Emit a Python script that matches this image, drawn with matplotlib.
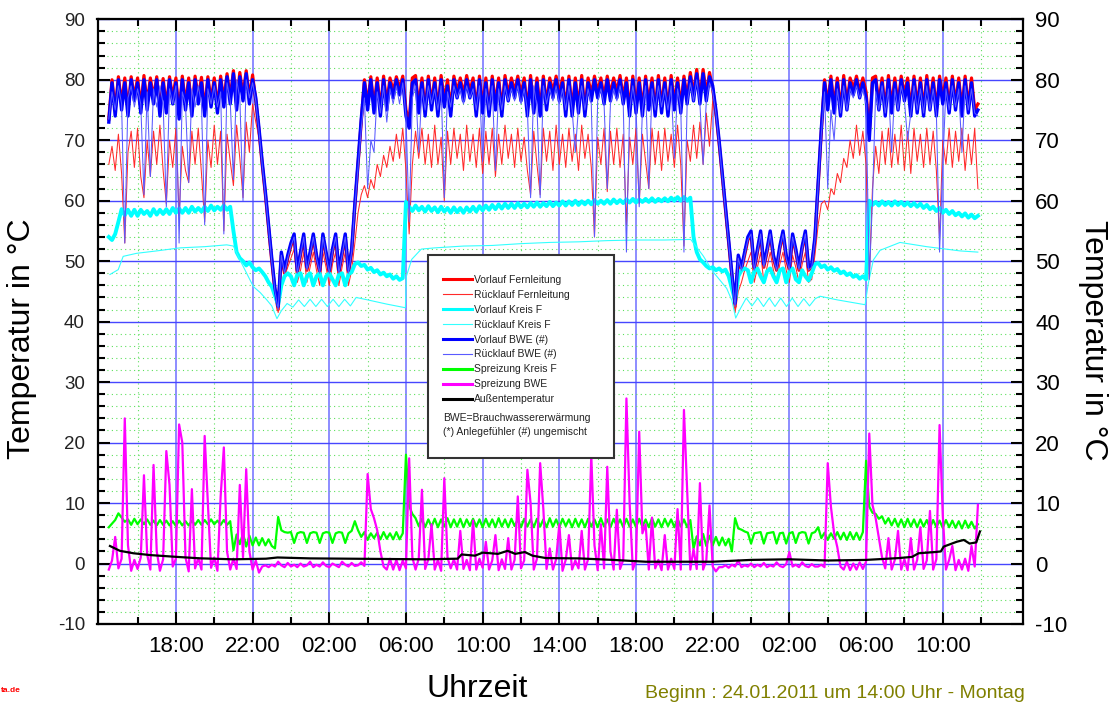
import numpy as np
import matplotlib
matplotlib.use("Agg")
import matplotlib.pyplot as plt
from matplotlib.patches import Rectangle
from matplotlib.lines import Line2D
from matplotlib.ticker import FixedLocator, MultipleLocator

plt.rcParams['font.family'] = ['Liberation Sans', 'DejaVu Sans']
plt.rcParams['axes.unicode_minus'] = False

# Messraster: 10 Minuten, erster Wert 24.01. 14:30 (Stunden ab 24.01. 00:00)
t0 = 14.5
dt = 1 / 6

# Vorlauf Fernleitung, je Zeile eine Stunde
vl_fern = [
    [73.5, 80, 75, 80.5, 76, 80.3],        # 14:30
    [75, 80.5, 77, 80.3, 75.5, 80.7],
    [76, 80.3, 77, 80.5, 75, 80.2],
    [75.5, 80.5, 77, 80.3, 74.5, 80.6],
    [76, 80.3, 75, 80.6, 77, 80.4],        # 18:30
    [75, 80.5, 76.5, 80.3, 75.5, 80.6],
    [76.5, 81, 77, 81.5, 76, 81.2],
    [77.5, 81.5, 77, 80.8, 76.5, 71.5],
    [66, 61, 55.5, 50, 45, 42],            # 22:30
    [51, 48, 50.5, 52.5, 54, 48],
    [51, 54, 48.5, 51, 54, 50.5],
    [48, 54, 51, 48, 51.5, 54],
    [48, 51, 54, 48, 51.5, 59],            # 02:30
    [66, 73, 80, 76, 80.5, 75.5],
    [80.3, 75, 80.6, 76, 80.3, 78],
    [80.5, 78.5, 80.6, 75, 73, 80.3],
    [80.7, 75.5, 80.3, 75, 80.6, 76],      # 06:30
    [80.3, 75, 80.7, 76.5, 80, 75],
    [80.6, 78, 80.3, 77.5, 80.7, 78],
    [80.3, 75, 80.6, 75.5, 80.3, 75],
    [80.6, 76, 80.3, 75, 80.7, 77.5],      # 10:30
    [80.3, 78, 80.6, 77.5, 80.3, 75],
    [80.7, 75.5, 80.3, 75, 80.6, 76],
    [80.3, 78, 80.6, 77.5, 80.3, 75],
    [80.6, 75, 80.3, 75.5, 80.7, 75],      # 14:30
    [80.3, 77.5, 80.6, 78, 80.3, 77],
    [80.6, 77.5, 80.3, 78, 80.7, 77],
    [80.3, 75, 80.6, 75.5, 80.3, 75],
    [80.6, 76, 80.3, 75, 80.7, 75.5],      # 18:30
    [80.3, 75, 80.7, 76, 80.3, 75.5],
    [80.6, 77, 81.2, 77.5, 81.7, 77],
    [81.7, 77.5, 81.2, 78.5, 74.5, 69.5],
    [64, 58.5, 53, 47.5, 42.5, 50.5],      # 22:30
    [48.5, 51, 53.5, 54.5, 48.5, 51.5],
    [54.5, 49, 51.5, 54.5, 50.5, 48.5],
    [52, 54.5, 50.5, 48.5, 54, 51.5],
    [48.5, 52, 54.5, 48.5, 49, 53.5],      # 02:30
    [62.5, 71.5, 80, 76, 80.6, 75.5],
    [80.3, 75, 80.7, 76, 80.3, 78.5],
    [80.6, 78, 80.3, 78, 71, 80.3],
    [80.6, 76, 80.3, 75, 80.7, 75.5],      # 06:30
    [80.3, 76, 80.6, 77.5, 80.3, 75],
    [80.6, 75.5, 80.3, 75, 80.7, 76],
    [80.3, 75, 80.6, 77, 80.3, 75.5],
    [80.6, 76, 80.3, 75, 80.6, 75.5],      # 10:30
    [80.3, 75, 76],
]

# Ruecklauf Fernleitung
rl_fern = [
    [66, 69, 65, 71, 64.5, 53],
    [68, 71.5, 65.5, 72, 64, 60.5],
    [70, 64, 71.5, 66, 72.5, 65],
    [59.5, 70, 65.5, 72, 57.5, 69],
    [65, 63, 71.5, 66, 72, 64.5],
    [56.5, 70, 65.5, 72.5, 66, 71.5],
    [55, 71, 66.5, 62.5, 72.5, 67],
    [60.5, 73, 68, 76, 73, 70.5],
    [65.5, 60.5, 55, 49.5, 44.5, 41.5],
    [45.5, 47.5, 49, 50.5, 52, 46.5],
    [48.5, 51.5, 46.5, 49, 51.5, 48.5],
    [46, 51.5, 49, 46, 49.5, 51.5],
    [46, 49, 51.5, 46, 48.5, 53],
    [58, 61, 62.5, 60.5, 63.5, 62],
    [66, 64, 67.5, 65.5, 69, 66.5],
    [71, 67, 72, 65, 54.5, 66],
    [71.5, 67, 72, 66, 71, 65.5],
    [72.5, 66, 70.5, 60, 71.5, 66],
    [72, 67, 71, 65, 72.5, 66.5],
    [71, 65.5, 72, 64.5, 71.5, 66],
    [72, 64, 71, 66, 72.5, 67],
    [71, 65.5, 72, 66.5, 70.5, 65],
    [61, 71.5, 66, 61, 72, 66.5],
    [71.5, 65, 72.5, 66, 71, 65.5],
    [72, 66.5, 71, 65, 72.5, 67],
    [71, 65.5, 54, 70.5, 66, 72],
    [61.5, 71.5, 66, 72, 65.5, 71],
    [56, 70.5, 66, 72, 59.5, 71],
    [66.5, 62, 72, 66, 71.5, 65],
    [72, 66.5, 71, 65.5, 72.5, 66],
    [52.5, 70, 66.5, 72.5, 67, 73],
    [66, 74.5, 69, 76.5, 73.5, 69],
    [63.5, 58, 52.5, 47, 41.5, 45],
    [46.5, 48.5, 50, 51.5, 46.5, 49],
    [51.5, 46.5, 49, 51.5, 48.5, 46.5],
    [49.5, 51.5, 48.5, 46.5, 51, 49],
    [46.5, 49.5, 51.5, 46.5, 47, 51],
    [56, 59.5, 60, 58.5, 62, 61],
    [64.5, 63, 67, 65.5, 70, 67],
    [72.5, 67.5, 71.5, 66, 47, 62],
    [69, 64.5, 71.5, 66, 72, 65.5],
    [71, 66, 72.5, 65, 71.5, 64.5],
    [72, 66.5, 71, 65.5, 72, 66],
    [71.5, 65, 53.5, 70, 66, 72],
    [65.5, 71.5, 66.5, 72, 65, 71],
    [66, 72, 62],
]

# Vorlauf Kreis F
vl_kreis = [
    [54.0, 53.5, 54.5, 56.5, 58.6, 57.6],
    [58.5, 57.5, 58.5, 57.5, 58.5, 57.8],
    [58.3, 57.5, 58.6, 57.7, 58.5, 57.8],
    [58.6, 57.8, 58.8, 58.0, 58.7, 58.0],
    [58.8, 58.0, 59.0, 58.2, 58.8, 58.2],
    [59.0, 58.3, 59.2, 58.4, 59.0, 58.5],
    [59.2, 58.5, 59.0, 55.0, 51.5, 50.5],
    [50.0, 49.3, 49.8, 49.0, 48.5, 48.8],
    [48.2, 47.5, 46.5, 45.8, 44.3, 42.8],
    [46.0, 47.5, 48.0, 47.5, 46.0, 47.8],
    [48.0, 46.0, 47.5, 48.0, 46.0, 47.5],
    [48.0, 46.0, 47.5, 48.0, 47.0, 46.0],
    [47.8, 48.0, 46.0, 47.8, 48.2, 49.5],
    [49.8, 49.2, 49.4, 48.6, 48.9, 48.2],
    [48.5, 47.8, 48.1, 47.5, 47.8, 47.1],
    [47.5, 46.9, 47.2, 59.8, 59.0, 58.3],
    [59.2, 58.4, 59.0, 58.2, 59.1, 58.3],
    [58.9, 58.1, 59.0, 58.2, 58.8, 58.0],
    [58.9, 58.1, 58.8, 58.0, 58.9, 58.2],
    [59.0, 58.2, 59.1, 58.4, 59.2, 58.5],
    [59.3, 58.6, 59.4, 58.7, 59.5, 58.8],
    [59.5, 58.8, 59.6, 58.9, 59.5, 58.9],
    [59.6, 59.0, 59.7, 59.0, 59.6, 59.1],
    [59.8, 59.1, 59.7, 59.2, 59.9, 59.2],
    [59.9, 59.3, 60.0, 59.3, 59.9, 59.4],
    [60.0, 59.4, 60.1, 59.5, 60.0, 59.5],
    [60.1, 59.5, 60.2, 59.6, 60.1, 59.6],
    [60.2, 59.7, 60.3, 59.7, 60.2, 59.8],
    [60.3, 59.8, 60.4, 59.8, 60.3, 59.9],
    [60.4, 59.9, 60.5, 60.0, 60.6, 60.0],
    [60.6, 60.0, 60.5, 54.0, 51.5, 50.3],
    [49.8, 49.2, 48.8, 49.0, 48.5, 48.8],
    [48.3, 48.6, 47.5, 45.5, 43.5, 47.5],
    [48.5, 48.8, 48.5, 46.5, 48.3, 48.8],
    [47.5, 46.5, 48.3, 48.8, 47.5, 46.5],
    [48.5, 48.8, 46.5, 48.3, 48.8, 47.0],
    [46.5, 48.5, 47.5, 46.8, 48.0, 49.5],
    [49.7, 49.0, 49.3, 48.6, 49.0, 48.4],
    [48.7, 48.0, 48.3, 47.7, 48.0, 47.4],
    [47.7, 47.1, 47.5, 47.0, 60.0, 59.3],
    [59.8, 59.2, 59.9, 59.3, 59.8, 59.2],
    [59.9, 59.3, 59.8, 59.2, 59.7, 59.1],
    [59.6, 59.0, 59.5, 58.8, 59.3, 58.6],
    [59.0, 58.3, 58.8, 58.0, 58.5, 57.8],
    [58.3, 57.6, 58.0, 57.4, 57.9, 57.2],
    [57.7, 57.1, 57.5],
]

# Ruecklauf Kreis F (einzelne Stuetzpunkte)
rl_kreis_t = [14.56, 14.99, 15.25, 15.95, 17.0, 18.2, 19.5, 20.65, 21.0, 21.34,
              21.69, 22.04, 22.4, 22.74, 23.0, 23.27, 23.5, 23.8, 24.1, 24.4,
              24.7, 25.0, 25.3, 25.6, 25.9, 26.2, 26.5, 26.8, 27.1, 27.4,
              28.0, 29.0, 29.97, 30.02, 30.3, 30.8, 31.5, 33.0, 34.5, 36.0,
              37.5, 39.0, 40.5, 42.0, 43.5, 44.85, 45.0, 45.5, 46.03, 46.73,
              47.0, 47.2, 47.45, 47.75, 48.05, 48.35, 48.65, 48.95, 49.25, 49.55,
              49.85, 50.15, 50.45, 50.75, 51.05, 51.35, 51.6, 52.5, 53.95, 54.12,
              54.38, 54.73, 55.77, 57.16, 58.9, 59.83]
rl_kreis = [47.8, 48.6, 50.8, 51.3, 51.7, 52.2, 52.4, 52.7, 52.5, 50.2,
            48.0, 45.8, 44.8, 43.6, 42.6, 40.5, 41.8, 43.0, 42.4, 43.6,
            42.5, 43.7, 42.5, 43.7, 42.5, 43.7, 42.5, 43.7, 42.6, 44.0,
            43.6, 42.9, 42.3, 47.5, 50.3, 52.0, 52.2, 52.5, 52.6, 52.9,
            53.1, 53.2, 53.4, 53.5, 53.5, 53.6, 53.0, 50.9, 48.2, 45.5,
            43.5, 40.6, 42.2, 43.9, 42.6, 43.9, 42.5, 43.9, 42.5, 43.9,
            42.5, 43.9, 42.5, 43.8, 42.6, 43.8, 44.2, 43.6, 42.8, 46.4,
            50.2, 51.8, 53.1, 52.4, 51.7, 51.5]

# Vorlauf BWE (#)
vl_bwe = [
    [73, 79.5, 74, 80, 75, 79.5],
    [74, 80, 76.5, 79.5, 74.5, 80],
    [75, 79.5, 76, 80, 74, 79.5],
    [74.5, 80, 76, 79.5, 73.5, 80],
    [75, 79.5, 74, 80, 76, 79.5],
    [74, 80, 75.5, 79.5, 74.5, 80],
    [75.5, 80.5, 76, 81, 75, 80.5],
    [76.5, 81, 76, 80, 77, 72],
    [66.5, 61.5, 56, 50.5, 45.5, 42.5],
    [51.5, 48.5, 51, 53, 54.5, 48.5],
    [51.5, 54.5, 49, 51.5, 54.5, 51],
    [48.5, 54.5, 51.5, 48.5, 52, 54.5],
    [48.5, 51.5, 54.5, 48.5, 52, 59.5],
    [66.5, 73.5, 79.5, 75, 80, 74.5],
    [79.5, 74, 80, 75, 79.5, 77],
    [80, 77.5, 80, 74, 72, 79.5],
    [80, 74.5, 79.5, 74, 80, 75],
    [79.5, 74, 80, 75.5, 79, 74],
    [80, 77, 79.5, 76.5, 80, 77],
    [79.5, 74, 80, 74.5, 79.5, 74],
    [80, 75, 79.5, 74, 80, 76.5],
    [79.5, 77, 80, 76.5, 79.5, 74],
    [80, 74.5, 79.5, 74, 80, 75],
    [79.5, 77, 80, 76.5, 79.5, 74],
    [80, 74, 79.5, 74.5, 80, 74],
    [79.5, 76.5, 80, 77, 79.5, 76],
    [80, 76.5, 79.5, 77, 80, 76],
    [79.5, 74, 80, 74.5, 79.5, 74],
    [80, 75, 79.5, 74, 80, 74.5],
    [79.5, 74, 80, 75, 79.5, 74.5],
    [80, 76, 80.5, 76.5, 81, 76],
    [81, 76.5, 80.5, 79, 75, 70],
    [64.5, 59, 53.5, 48, 43, 51],
    [49, 51.5, 54, 55, 49, 52],
    [55, 49.5, 52, 55, 51, 49],
    [52.5, 55, 51, 49, 54.5, 52],
    [49, 52.5, 55, 49, 49.5, 54],
    [63, 72, 79.5, 75, 80, 74.5],
    [79.5, 74, 80, 75, 79.5, 77.5],
    [80, 77, 79.5, 77, 70, 79.5],
    [80, 75, 79.5, 74, 80, 74.5],
    [79.5, 75, 80, 76.5, 79.5, 74],
    [80, 74.5, 79.5, 74, 80, 75],
    [79.5, 74, 80, 76, 79.5, 74.5],
    [80, 75, 79.5, 74, 80, 74.5],
    [79.5, 74, 75],
]

# Ruecklauf BWE (#)
rl_bwe = [
    [73.5, 78, 75, 79, 76, 53],
    [77, 79, 75.5, 78.5, 76, 61],
    [78, 64, 78.5, 75.5, 79, 76],
    [59, 78.5, 76, 79, 53, 78],
    [76, 63, 78.5, 75.5, 79, 76],
    [56, 78.5, 76, 79, 75.5, 78],
    [54.5, 79.5, 76.5, 63.5, 80, 77],
    [60, 80, 77, 79.5, 76.5, 71.5],
    [66, 61, 55.5, 50, 45, 42],
    [51, 48, 50.5, 52.5, 54, 48],
    [51, 54, 48.5, 51, 54, 50.5],
    [48, 54, 51, 48, 51.5, 54],
    [48, 51, 54, 48, 51.5, 59],
    [65.5, 72, 77, 62, 70, 68],
    [78, 74.5, 79, 73, 78.5, 76],
    [79, 76, 79.5, 74, 56.5, 77],
    [79, 68, 78.5, 75, 79, 76],
    [78.5, 75, 79, 60.5, 78, 75.5],
    [79, 77, 78.5, 76, 79, 77],
    [78.5, 75, 79, 66.5, 78.5, 75],
    [79, 65, 78.5, 75, 79, 76.5],
    [78.5, 76.5, 79, 76, 78.5, 75],
    [60.5, 79, 75.5, 60.5, 79, 76],
    [78.5, 76.5, 79, 76, 78.5, 75],
    [79, 75, 68, 75.5, 79, 75],
    [78.5, 76, 54, 76.5, 78.5, 76],
    [62, 76, 78.5, 76.5, 79, 76],
    [51.5, 75, 79, 75.5, 59, 75],
    [79, 62, 78.5, 75, 79, 75.5],
    [78.5, 75, 79, 67, 78.5, 75.5],
    [51.5, 76, 79.5, 76.5, 80, 76],
    [66, 76.5, 79.5, 78, 74.5, 69.5],
    [64, 58.5, 53, 47.5, 42.5, 50.5],
    [48.5, 51, 53.5, 54.5, 48.5, 51.5],
    [54.5, 49, 51.5, 54.5, 50.5, 48.5],
    [52, 54.5, 50.5, 48.5, 54, 51.5],
    [48.5, 52, 54.5, 48.5, 49, 53.5],
    [62.5, 71, 78, 62, 75, 70],
    [78.5, 74.5, 79, 75, 78.5, 77],
    [79, 77, 78.5, 76, 47, 60],
    [78, 75, 79, 74.5, 78.5, 68],
    [78.5, 75, 79, 76.5, 70, 74.5],
    [79, 75, 78.5, 74.5, 79, 75],
    [78.5, 74.5, 51.5, 66, 78.5, 75],
    [79, 75.5, 78.5, 68, 79, 75],
    [78.5, 74.5, 74],
]

# Spreizung Kreis F
spr_kreis = [
    [6.0, 6.6, 7.2, 8.3, 7.6, 6.9],
    [7.3, 6.4, 7.4, 6.5, 7.3, 6.5],
    [7.3, 6.4, 7.1, 6.3, 7.2, 6.4],
    [7.1, 6.3, 7.0, 6.2, 7.1, 6.3],
    [7.0, 6.3, 7.1, 6.4, 7.2, 6.4],
    [7.2, 6.5, 7.3, 6.5, 7.1, 6.4],
    [7.2, 6.4, 7.0, 2.2, 4.8, 3.2],
    [5.0, 2.8, 4.6, 3.0, 4.3, 3.0],
    [4.2, 3.0, 4.0, 2.9, 2.5, 7.7],
    [5.5, 5.2, 5.1, 5.2, 3.4, 5.0],
    [5.2, 5.1, 3.4, 5.0, 5.2, 5.1],
    [3.4, 5.0, 5.2, 5.1, 3.4, 5.0],
    [5.2, 5.1, 3.4, 5.0, 5.4, 7.0],
    [5.5, 4.4, 5.2, 3.9, 5.0, 4.2],
    [5.1, 4.0, 5.2, 4.1, 5.0, 4.0],
    [5.2, 4.0, 5.0, 18.0, 9.5, 8.2],
    [7.5, 6.2, 7.4, 6.0, 7.3, 6.1],
    [7.4, 6.0, 7.3, 6.1, 7.5, 6.0],
    [7.3, 6.1, 7.4, 6.0, 7.3, 6.2],
    [7.4, 6.1, 7.3, 6.0, 7.4, 6.1],
    [7.3, 6.0, 7.5, 6.1, 7.3, 6.0],
    [7.4, 6.2, 7.3, 6.0, 7.4, 6.1],
    [7.3, 6.0, 7.4, 6.1, 7.3, 6.0],
    [7.5, 6.1, 7.3, 6.0, 7.4, 6.2],
    [7.3, 6.0, 7.4, 6.1, 7.3, 6.0],
    [7.4, 6.1, 7.3, 6.0, 7.5, 6.1],
    [7.3, 6.0, 7.4, 6.2, 7.3, 6.0],
    [7.4, 6.1, 7.3, 6.0, 7.4, 6.1],
    [7.3, 6.0, 7.5, 6.1, 7.3, 6.0],
    [7.4, 6.2, 7.3, 6.0, 7.4, 6.1],
    [7.3, 6.0, 7.2, 2.5, 4.5, 3.0],
    [4.9, 2.9, 4.6, 3.0, 4.4, 3.0],
    [4.3, 3.0, 4.1, 2.0, 7.5, 5.8],
    [5.6, 5.3, 5.1, 3.3, 5.0, 5.1],
    [5.2, 3.3, 5.0, 5.1, 5.2, 3.3],
    [5.0, 5.1, 3.3, 5.0, 5.2, 3.4],
    [5.0, 5.2, 5.1, 3.3, 5.0, 5.2],
    [6.0, 4.2, 5.1, 3.9, 5.0, 4.1],
    [5.2, 4.0, 5.1, 3.9, 5.2, 4.0],
    [5.1, 3.9, 5.2, 17.0, 9.4, 8.4],
    [8.2, 7.4, 7.8, 6.6, 7.5, 6.3],
    [7.4, 6.1, 7.3, 6.0, 7.4, 6.1],
    [7.3, 6.0, 7.3, 6.1, 7.2, 5.9],
    [7.2, 6.0, 7.1, 5.9, 7.2, 6.0],
    [7.1, 5.9, 7.0, 5.8, 7.1, 5.9],
    [6.9, 5.8, 6.5],
]

# Spreizung BWE
spr_bwe = [
    [-1.0, 0.5, 4.4, -0.8, 0.8, 24.0],
    [3.0, -1.2, 0.6, -0.9, 1.0, 14.6],
    [1.5, -1.0, 16.3, 2.0, -1.2, 0.7],
    [18.6, 13.0, -0.5, 0.8, 23.0, 20.0],
    [1.0, -1.3, 12.3, -0.8, 0.9, -1.0],
    [21.1, 10.0, -0.7, 1.0, -1.2, 11.1],
    [19.2, 2.0, -1.0, 0.8, -0.9, 13.0],
    [1.0, 15.6, 2.0, -1.0, 0.5, -1.5],
    [-0.5, -0.3, -0.6, -0.2, -0.5, 0.3],
    [-0.3, -0.6, 0.1, -0.5, -0.2, -0.6],
    [0.0, -0.5, -0.3, 0.3, -0.6, -0.2],
    [-0.5, 0.2, -0.4, -0.6, 0.0, -0.3],
    [-0.6, 0.3, -0.2, -0.5, 0.1, -0.4],
    [-0.3, 0.2, -0.4, 14.8, 9.0, 7.5],
    [5.5, 2.0, -0.5, -1.0, 0.8, -1.0],
    [0.6, -1.1, 0.5, -0.8, 17.4, 1.0],
    [-1.0, 0.8, 12.2, -0.9, 0.7, 6.5],
    [-1.0, 0.6, -1.2, 14.1, 1.0, -0.8],
    [0.7, -1.0, 5.4, -0.9, 0.6, -1.1],
    [7.1, -1.0, 0.8, -0.7, 3.6, -1.0],
    [0.5, 4.7, -1.1, 0.7, -0.9, 4.2],
    [-1.0, 0.6, 11.1, -0.8, 0.5, 15.5],
    [10.0, -1.0, 0.8, 16.6, 9.0, -0.9],
    [2.5, -1.0, 0.7, 6.5, -1.2, 0.6],
    [4.7, -1.0, 0.5, -0.8, 5.4, -1.0],
    [0.7, 17.9, 3.0, -1.1, 6.5, -0.8],
    [16.0, 2.0, -1.0, 8.9, -0.9, 0.6],
    [27.3, 10.0, -1.0, 0.5, 21.8, 5.0],
    [6.5, -1.0, 7.6, -0.8, 0.6, -1.1],
    [4.7, -1.0, 0.8, -0.9, 9.0, -1.0],
    [25.4, 12.0, -1.0, 2.4, -0.9, 13.3],
    [-1.0, 0.5, 9.6, -0.5, -1.3, -0.6],
    [-0.6, -0.3, -0.7, -0.2, -0.5, 0.5],
    [-0.6, -0.3, -0.5, 0.0, -0.6, -0.2],
    [-0.5, 0.1, -0.6, -0.3, -0.5, 0.2],
    [-0.4, -0.6, -0.1, 1.9, -0.5, -0.2],
    [-0.6, 0.2, -0.4, -0.6, -0.1, -0.5],
    [-0.5, -0.2, -0.6, 16.6, 9.4, 5.0],
    [2.7, -0.5, -1.0, 0.3, -1.1, 0.0],
    [-1.0, 0.2, -0.9, 0.3, 21.5, 9.7],
    [7.5, 4.2, 1.0, -0.8, 4.2, -1.0],
    [0.6, 5.4, -1.0, 0.7, -1.1, 4.2],
    [-1.0, 0.6, 6.0, -0.9, 0.5, 8.7],
    [-1.0, 0.7, 22.9, 8.0, -1.0, 0.6],
    [2.9, -1.1, 0.6, -1.0, 0.8, -1.2],
    [2.9, -0.5, 9.7],
]

# Aussentemperatur (Stuetzpunkte)
aussen_t = [14.56, 15.08, 15.78, 16.65, 18.04, 19.26, 21.0, 22.7, 23.3, 25.0,
            27.0, 29.0, 31.0, 32.7, 32.9, 33.6, 34.0, 34.8, 35.3, 35.7,
            36.2, 36.6, 37.3, 39.0, 40.8, 42.5, 44.0, 46.0, 48.0, 50.0,
            52.0, 54.0, 55.7, 56.4, 56.74, 57.6, 57.9, 58.05, 58.73, 59.1,
            59.4, 59.75, 59.94]
aussen = [2.9, 2.1, 1.7, 1.4, 1.1, 0.86, 0.7, 0.8, 1.0, 0.85,
          0.8, 0.75, 0.7, 0.8, 1.5, 1.3, 1.8, 1.6, 2.1, 1.6,
          1.9, 1.3, 0.9, 0.85, 0.6, 0.3, 0.3, 0.3, 0.6, 0.7,
          0.5, 0.6, 0.9, 1.1, 1.7, 1.9, 2.0, 2.8, 3.6, 3.9,
          3.3, 3.5, 5.3]

major_h = [18, 22, 26, 30, 34, 38, 42, 46, 50, 54, 58]
minor_h = [16, 20, 24, 28, 32, 36, 40, 44, 48, 52, 56, 60]


def flat(rows):
    return np.array([v for r in rows for v in r], dtype=float)


def zeit(vals):
    return t0 + np.arange(len(vals)) * dt


W, H = 1110, 706
fig = plt.figure(figsize=(W / 100, H / 100), dpi=100)
fig.patch.set_facecolor('white')
ax = fig.add_axes([97.5 / W, 1 - 624 / H, (1022.7 - 97.5) / W, (624 - 19.3) / H])

series = [
    (flat(vl_fern), '#ff0000', 2.3, 'Vorlauf Fernleitung'),
    (flat(rl_fern), '#ff2a2a', 0.75, 'Rücklauf Fernleitung'),
    (flat(vl_kreis), '#00ffff', 2.8, 'Vorlauf Kreis F'),
    (None, '#33ffff', 0.8, 'Rücklauf Kreis F'),
    (flat(vl_bwe), '#0000ff', 2.4, 'Vorlauf BWE (#)'),
    (flat(rl_bwe), '#5a5aff', 0.75, 'Rücklauf BWE (#)'),
    (flat(spr_kreis), '#00ff00', 1.6, 'Spreizung Kreis F'),
    (flat(spr_bwe), '#ff00ff', 1.6, 'Spreizung BWE'),
    (None, '#000000', 1.6, 'Außentemperatur'),
]
leg_lw = [2.2, 0.8, 2.2, 0.8, 2.2, 0.8, 2.2, 2.2, 2.2]

handles = []
for (vals, col, lw, lab), hw in zip(series, leg_lw):
    if lab == 'Rücklauf Kreis F':
        ax.plot(rl_kreis_t, rl_kreis, color=col, lw=lw, zorder=3)
    elif lab == 'Außentemperatur':
        ax.plot(aussen_t, aussen, color=col, lw=lw, zorder=3)
    else:
        ax.plot(zeit(vals), vals, color=col, lw=lw, zorder=3)
    handles.append(Line2D([], [], color=col, lw=hw))

ax.set_xlim(13.91, 62.17)
ax.set_ylim(-10, 90)
ax.xaxis.set_major_locator(FixedLocator(major_h))
ax.xaxis.set_minor_locator(FixedLocator(minor_h))
ax.set_xticklabels(['%02d:00' % (h % 24) for h in major_h])
ax.set_yticks(range(-10, 91, 10))
ax.yaxis.set_minor_locator(MultipleLocator(2))

ax.set_axisbelow(True)
ax.yaxis.grid(True, which='major', color='#4646ff', lw=1.0)
ax.xaxis.grid(True, which='major', color='#8c8cff', lw=1.4)
ax.yaxis.grid(True, which='minor', color='#5ee05e', lw=0.8, ls=(0, (1, 3)))
ax.xaxis.grid(True, which='minor', color='#5ee05e', lw=0.8, ls=(0, (1, 3)))

for s in ax.spines.values():
    s.set_linewidth(1.6)
ax.tick_params(which='both', direction='in', top=True, right=True,
               labelright=True, width=1.5, colors='black')
ax.tick_params(which='major', length=8.5)
ax.tick_params(which='minor', length=5)
ax.tick_params(axis='x', labelsize=16, pad=9)
ax.tick_params(axis='y', pad=9)
for tk in ax.yaxis.get_major_ticks():
    tk.label1.set_fontsize(13.5)
    tk.label1.set_color('#222222')
    tk.label2.set_fontsize(16)

fig.text(22 / W, 1 - 339 / H, 'Temperatur in °C', rotation=90, fontsize=23,
         ha='center', va='center')
fig.text(1093 / W, 1 - 340 / H, 'Temperatur in °C', rotation=-90, fontsize=23,
         ha='center', va='center')
fig.text(477 / W, 1 - 689 / H, 'Uhrzeit', fontsize=23, ha='center', va='center')
fig.text(835 / W, 1 - 694 / H, 'Beginn : 24.01.2011 um 14:00 Uhr - Montag',
         fontsize=14, color='#808000', ha='center', va='center')
fig.text(1 / W, 1 - 690 / H, 'ta.de', fontsize=6,
         fontweight='bold', color='red', ha='left', va='center')

# Legendenkasten
fig.patches.append(Rectangle((427.5 / W, 1 - 458 / H), 186 / W, 203 / H,
                             transform=fig.transFigure, facecolor='white',
                             edgecolor='#333333', lw=1.5, zorder=4))
leg = fig.legend(handles, [s[3] for s in series], loc='upper left',
                 bbox_to_anchor=(443 / W, 1 - 275 / H), frameon=False,
                 fontsize=7.5, handlelength=2.8, handletextpad=0.2,
                 labelspacing=0.47, borderpad=0, borderaxespad=0)
leg.set_zorder(5)
for txt in leg.get_texts():
    txt.set_color('#222222')
fig.text(443 / W, 1 - 418 / H, 'BWE=Brauchwassererwärmung', fontsize=7.5,
         color='#222222', va='center', zorder=6)
fig.text(443 / W, 1 - 432 / H, '(*) Anlegefühler (#) ungemischt', fontsize=7.5,
         color='#222222', va='center', zorder=6)

fig.savefig('out.png', dpi=100)
